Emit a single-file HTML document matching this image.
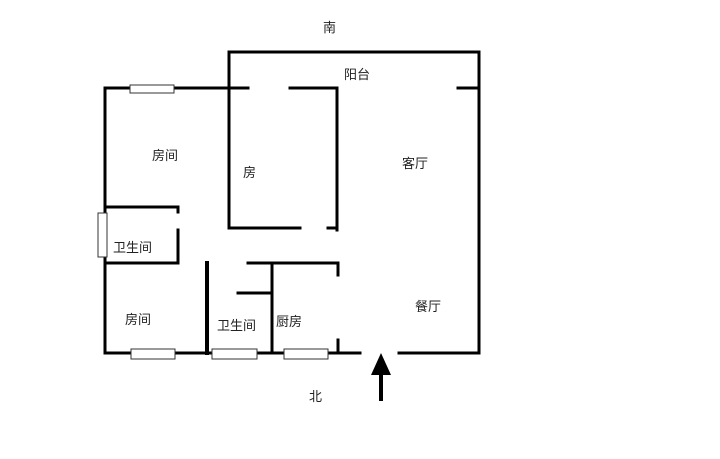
<!DOCTYPE html>
<html><head><meta charset="utf-8"><style>
html,body{margin:0;padding:0;background:#fff;}
svg{display:block}
text{font-family:"Liberation Sans","Noto Sans CJK SC",sans-serif;font-size:13px;fill:#222}
</style></head><body>
<svg width="720" height="459" viewBox="0 0 720 459" xmlns="http://www.w3.org/2000/svg">
<g stroke="#000" stroke-width="3" fill="none" stroke-linecap="square">
<path d="M229 52 H479 V353"/>
<path d="M458 88 H479"/>
<path d="M105 88 H248"/>
<path d="M290 88 H337 V230"/>
<path d="M229 52 V228 H300"/>
<path d="M328 228 H337"/>
<path d="M105 88 V353"/>
<path d="M105 207 H178 V212"/>
<path d="M178 230 V263 H105"/>
<path d="M207 263 V353" stroke-width="4"/>
<path d="M248 263 H338 V275"/>
<path d="M272 263 V353"/>
<path d="M238 293 H272"/>
<path d="M338 340 V353"/>
<path d="M105 353 H360"/>
<path d="M399 353 H479"/>
<path d="M381 372 V399" stroke-width="4"/>
</g>
<polygon points="381,353 371,375 391,375" fill="#000"/>
<g fill="#fff" stroke="#333" stroke-width="1">
<rect x="130" y="85" width="44" height="8"/>
<rect x="98" y="213" width="9" height="44"/>
<rect x="131" y="349" width="44" height="10"/>
<rect x="212" y="349" width="45" height="10"/>
<rect x="284" y="349" width="44" height="10"/>
</g>
<text x="323" y="32">南</text>
<text x="344" y="79">阳台</text>
<text x="152" y="160">房间</text>
<text x="243" y="177">房</text>
<text x="402" y="168">客厅</text>
<text x="113" y="252">卫生间</text>
<text x="125" y="324">房间</text>
<text x="217" y="330">卫生间</text>
<text x="276" y="326">厨房</text>
<text x="415" y="311">餐厅</text>
<text x="309" y="401">北</text>
</svg>
</body></html>
